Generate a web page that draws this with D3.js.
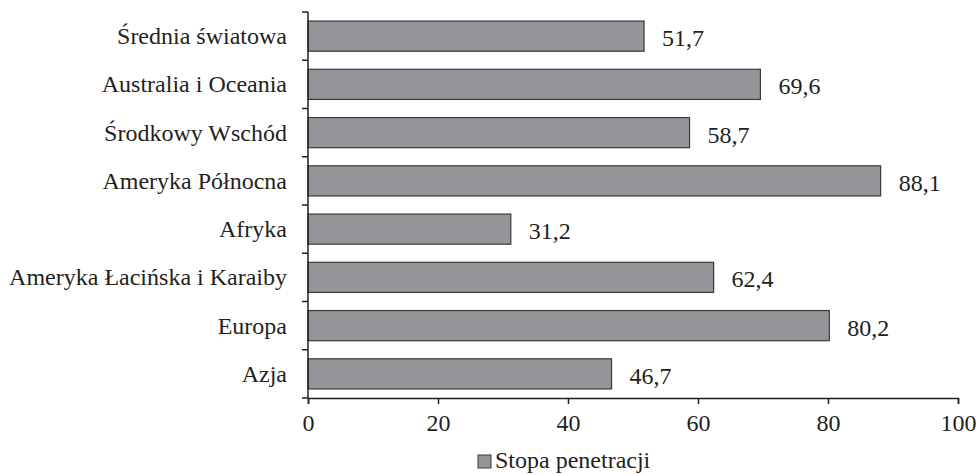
<!DOCTYPE html>
<html>
<head>
<meta charset="utf-8">
<script src="https://cdn.jsdelivr.net/npm/d3@7"></script>
<style>
  html, body { margin: 0; padding: 0; background: #fff; }
</style>
</head>
<body>
<svg id="chart" width="980" height="474"></svg>
<script>
// Internet penetration rate by region (%)
const categories = [
  "Średnia światowa",
  "Australia i Oceania",
  "Środkowy Wschód",
  "Ameryka Północna",
  "Afryka",
  "Ameryka Łacińska i Karaiby",
  "Europa",
  "Azja"
];
const values = [51.7, 69.6, 58.7, 88.1, 31.2, 62.4, 80.2, 46.7];
const xTicks = [0, 20, 40, 60, 80, 100];
const seriesName = "Stopa penetracji";

const FONT = "'Liberation Serif', 'Tinos'";
const BASE_SIZE = 20;   // font size before scaling
const TEXT_SCALE = 1.2; // drawn text size = 24px
const INK = "#231f20";
const BAR_FILL = "#939598";
const BAR_STROKE = "#3a3a3c";

const svg = d3.select("#chart");
const plotLeft = 308, plotRight = 958, plotTop = 12, plotBottom = 398;

const x = d3.scaleLinear().domain([0, 100]).range([plotLeft, plotRight]);
const y = d3.scaleBand().domain(categories).range([plotTop, plotBottom])
  .paddingInner(0.375).paddingOuter(0.1875);

const fmt = v => d3.format(".1f")(v).replace(".", ",");

// place a scaled serif label at (px, py)
function label(sel, px, py) {
  return sel
    .attr("transform", (d, i) => `translate(${px(d, i)},${py(d, i)}) scale(${TEXT_SCALE})`)
    .style("font-family", FONT)
    .attr("font-size", BASE_SIZE)
    .attr("fill", INK);
}

// bars
svg.append("g").selectAll("rect")
  .data(values)
  .join("rect")
  .attr("x", x(0))
  .attr("y", (d, i) => y(categories[i]))
  .attr("width", d => x(d) - x(0))
  .attr("height", y.bandwidth())
  .attr("fill", BAR_FILL)
  .attr("stroke", BAR_STROKE)
  .attr("stroke-width", 1.2);

// value labels
label(
  svg.append("g").selectAll("text").data(values).join("text").text(d => fmt(d)),
  d => x(d) + 18,
  (d, i) => y(categories[i]) + y.bandwidth() / 2 + 10
);

// y axis with ticks between categories
const yAxisG = svg.append("g");
yAxisG.append("line")
  .attr("x1", plotLeft).attr("x2", plotLeft)
  .attr("y1", plotTop).attr("y2", plotBottom)
  .attr("stroke", INK).attr("stroke-width", 1.5);
const boundaries = d3.range(categories.length + 1)
  .map(i => plotTop + i * (plotBottom - plotTop) / categories.length);
yAxisG.selectAll("line.tk")
  .data(boundaries)
  .join("line")
  .attr("class", "tk")
  .attr("x1", plotLeft - 6).attr("x2", plotLeft)
  .attr("y1", d => d).attr("y2", d => d)
  .attr("stroke", INK).attr("stroke-width", 1.5);
label(
  yAxisG.selectAll("text").data(categories).join("text")
    .attr("text-anchor", "end").text(d => d),
  () => plotLeft - 21,
  d => y(d) + y.bandwidth() / 2 + 8
);

// x axis
const xAxis = d3.axisBottom(x).tickValues(xTicks).tickSize(6).tickPadding(10)
  .tickFormat(d3.format("d"));
const xg = svg.append("g").attr("transform", `translate(0,${plotBottom})`).call(xAxis);
xg.select(".domain").attr("stroke", INK).attr("stroke-width", 1.5);
xg.selectAll(".tick line").attr("stroke", INK).attr("stroke-width", 1.5);
xg.selectAll(".tick text")
  .attr("x", 0)
  .attr("y", 16 / TEXT_SCALE)
  .attr("transform", `scale(${TEXT_SCALE})`)
  .style("font-family", FONT)
  .attr("font-size", BASE_SIZE)
  .attr("fill", INK);

// legend
const lg = svg.append("g").attr("transform", "translate(478,455)");
lg.append("rect").attr("width", 13).attr("height", 13)
  .attr("fill", BAR_FILL).attr("stroke", BAR_STROKE).attr("stroke-width", 1);
label(lg.append("text").text(seriesName), () => 17, () => 13);
</script>
</body>
</html>
